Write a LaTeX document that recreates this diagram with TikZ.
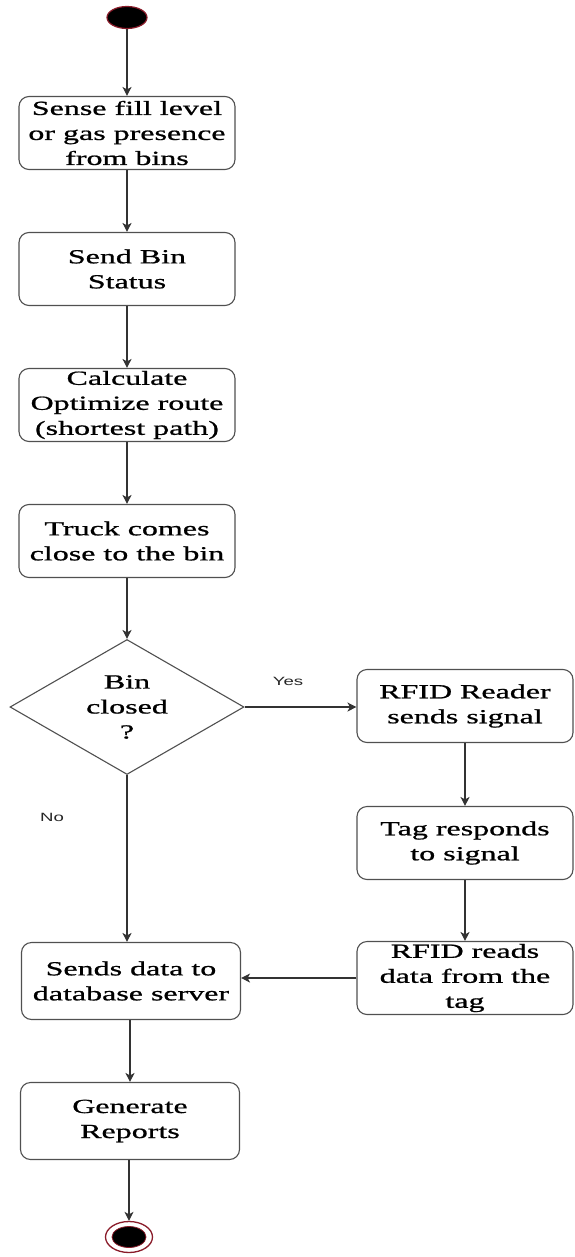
\documentclass[tikz,border=0pt]{standalone}
\usepackage{fontspec}
\setmainfont[FakeStretch=1.6,FakeBold=0.9]{Liberation Serif}
\newfontfamily\labelfont[FakeStretch=1.55]{Liberation Sans}
\usetikzlibrary{arrows.meta,shapes.geometric}
\definecolor{linegray}{HTML}{505050}
\definecolor{dotred}{HTML}{8A1C2A}
\begin{document}
\begin{tikzpicture}[x=1pt,y=1pt,
  box/.style={draw=linegray, line width=1.1pt, rounded corners=10pt,
    minimum width=216pt, minimum height=73pt, align=center, inner sep=0pt,
    text=black, font=\fontsize{20}{25}\selectfont},
  dia/.style={diamond, draw=linegray, line width=1.1pt, aspect=1.73,
    minimum width=234pt, minimum height=135pt, inner sep=0pt, align=center,
    font=\fontsize{20}{25}\selectfont},
  arr/.style={draw=black!80, line width=1.1pt, -{Stealth[length=9pt,width=9pt,inset=2.5pt]}},
  lbl/.style={font=\labelfont\fontsize{12}{14}\selectfont, text=black!85},
  startdot/.style={ellipse, fill=black, draw=dotred, line width=1.2pt,
    minimum width=40pt, minimum height=22pt, inner sep=0pt},
  endring/.style={ellipse, fill=white, draw=dotred, line width=1.3pt,
    minimum width=47pt, minimum height=31pt, inner sep=0pt},
  enddot/.style={ellipse, fill=black, draw=dotred, line width=0.8pt,
    minimum width=34pt, minimum height=21pt, inner sep=0pt}
]
\fill[white] (0,0) rectangle (574,-1257);
\useasboundingbox (0,0) rectangle (574,-1257);

\node[startdot] (start) at (127,-17.5) {};
\node[box] (sense) at (127,-133) {Sense fill level\\or gas presence\\from bins};
\node[box] (send) at (127,-269) {Send Bin\\Status};
\node[box] (calc) at (127,-405) {Calculate\\Optimize route\\(shortest path)};
\node[box] (truck) at (127,-541) {Truck comes\\close to the bin};
\node[dia] (dec) at (127,-707) {Bin\\closed\\?};
\node[box] (rfid) at (465,-706) {RFID Reader\\sends signal};
\node[box] (tag) at (465,-843) {Tag responds\\to signal};
\node[box] (reads) at (465,-978) {RFID reads\\data from the\\tag};
\node[box, minimum width=219pt, minimum height=77pt] (sends) at (131,-981) {Sends data to\\database server};
\node[box, minimum width=219pt, minimum height=77pt] (gen) at (130,-1121) {Generate\\Reports};
\node[endring] (endo) at (129,-1237) {};
\node[enddot] (endi) at (endo.center) {};

\draw[arr] (start) -- (sense);
\draw[arr] (sense) -- (send);
\draw[arr] (send) -- (calc);
\draw[arr] (calc) -- (truck);
\draw[arr] (truck) -- (dec);
\draw[arr] (dec.east) -- (rfid.west |- dec.east);
\draw[arr] (rfid) -- (tag);
\draw[arr] (tag) -- (reads);
\draw[arr] (dec.south) -- (dec.south |- sends.north);
\draw[arr] (reads.west) -- (sends.east |- reads.west);
\draw[arr] (sends.south -| gen) -- (gen.north);
\draw[arr] (gen.south -| endo) -- (endo.north);

\node[lbl] (yes) at (288,-681) {Yes};
\node[lbl] (no) at (52,-817) {No};
\end{tikzpicture}
\end{document}
